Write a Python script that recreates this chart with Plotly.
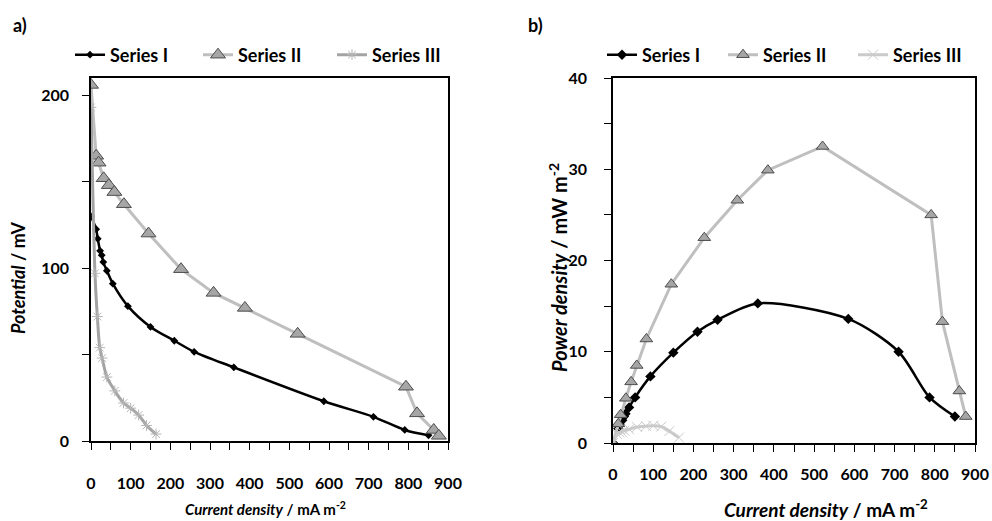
import plotly.graph_objects as go

# ---------------- data ----------------
# Panel a) polarisation curves: current density (mA m-2) vs potential (mV)
s1_current = [0, 13, 17, 23, 27, 31, 40, 55, 93, 150, 210, 260, 360, 587, 712, 791, 851]
s1_potential = [130, 122.5, 117, 110, 107.5, 103.5, 98.5, 91, 78, 66, 58, 51.6, 42.6, 23, 14, 6.4, 3.3]

s2_current = [0, 13, 19, 32, 45, 59, 83, 145, 227, 309, 388, 521, 794, 822, 864, 877]
s2_potential = [206, 165, 161, 152, 148, 144, 137, 120, 99.4, 85.7, 77, 62, 31.4, 16, 6.4, 3]

s3_current = [0, 10, 16, 22, 28, 40, 60, 82, 100, 120, 140, 164]
s3_potential = [193, 97, 72, 54, 48, 37, 29, 22, 19, 15, 9, 4]

# Panel b) power curves: current density (mA m-2) vs power density (mW m-2)
p1_current = [0, 13, 17, 23, 27, 31, 40, 55, 93, 150, 210, 260, 360, 585, 710, 787, 850]
p1_power = [0, 1.6, 2.0, 2.5, 2.9, 3.2, 3.9, 5.0, 7.3, 9.9, 12.2, 13.5, 15.3, 13.6, 10.0, 5.0, 2.9]

p2_current = [0, 13, 19, 32, 45, 59, 83, 145, 227, 309, 385, 521, 791, 819, 861, 877]
p2_power = [0, 2.1, 3.1, 4.9, 6.7, 8.5, 11.4, 17.4, 22.5, 26.6, 29.9, 32.5, 25.0, 13.3, 5.7, 2.9]

p3_current = [0, 10, 16, 22, 28, 40, 60, 82, 100, 120, 140, 164]
p3_power = [0, 1.0, 1.15, 1.2, 1.35, 1.5, 1.75, 1.85, 1.9, 1.8, 1.3, 0.6]

series_names = ["Series I", "Series II", "Series III"]
x_ticks = [0, 100, 200, 300, 400, 500, 600, 700, 800, 900]

# ---------------- styling ----------------
W, H = 992, 521
FONT = "Lato"
BLACK = "#000000"
S2_LINE = "#bfbfbf"
S2_FILL = "#a6a6a6"
S2_EDGE = "#4d4d4d"
S3A_LINE = "#a3a3a3"
S3B_LINE = "#cacaca"


def px_x(p):
    return p / W


def px_y(p):
    return 1 - p / H


fig = go.Figure()

# ---- panel a ----
fig.add_trace(go.Scatter(
    x=s1_current, y=s1_potential, name=series_names[0], xaxis="x", yaxis="y",
    mode="lines+markers", line=dict(color=BLACK, width=2.5, shape="spline", smoothing=0.8),
    marker=dict(symbol="diamond", size=6, color=BLACK), legend="legend", legendwidth=83))
fig.add_trace(go.Scatter(
    x=s2_current, y=s2_potential, name=series_names[1], xaxis="x", yaxis="y",
    mode="lines+markers", line=dict(color=S2_LINE, width=3),
    marker=dict(symbol="triangle-up", size=13, color=S2_FILL, line=dict(color=S2_EDGE, width=1)),
    legend="legend", legendwidth=89))
fig.add_trace(go.Scatter(
    x=s3_current, y=s3_potential, name=series_names[2], xaxis="x", yaxis="y",
    mode="lines+markers", line=dict(color=S3A_LINE, width=3, shape="spline", smoothing=0.8),
    marker=dict(symbol="asterisk-open", size=9, color="#b5b5b5", line=dict(color="#b5b5b5", width=1)),
    legend="legend"))

# ---- panel b ----
fig.add_trace(go.Scatter(
    x=p1_current, y=p1_power, name=series_names[0], xaxis="x2", yaxis="y2",
    mode="lines+markers", line=dict(color=BLACK, width=2.5, shape="spline", smoothing=0.8),
    marker=dict(symbol="diamond", size=8, color=BLACK), legend="legend2", legendwidth=76))
fig.add_trace(go.Scatter(
    x=p2_current, y=p2_power, name=series_names[1], xaxis="x2", yaxis="y2",
    mode="lines+markers", line=dict(color=S2_LINE, width=3),
    marker=dict(symbol="triangle-up", size=11, color=S2_FILL, line=dict(color=S2_EDGE, width=1)),
    legend="legend2", legendwidth=85))
fig.add_trace(go.Scatter(
    x=p3_current, y=p3_power, name=series_names[2], xaxis="x2", yaxis="y2",
    mode="lines+markers", line=dict(color=S3B_LINE, width=3, shape="spline", smoothing=0.8),
    marker=dict(symbol="x-thin-open", size=10, color=S3B_LINE, line=dict(color=S3B_LINE, width=1)),
    legend="legend2"))

tickfont = dict(family=FONT, size=16, color=BLACK, weight="bold")
common = dict(showline=True, linecolor=BLACK, linewidth=1.5, mirror=True,
              showgrid=False, zeroline=False, ticks="outside", ticklen=7,
              tickcolor=BLACK, tickwidth=1, tickfont=tickfont, automargin=False)

legend_font = dict(family=FONT, size=18, color=BLACK, weight="bold")

fig.update_layout(
    template="none",
    width=W, height=H,
    margin=dict(l=0, r=0, t=0, b=0, autoexpand=False),
    paper_bgcolor="white", plot_bgcolor="white",
    font=dict(family=FONT, color=BLACK),
    xaxis=dict(domain=[px_x(91), px_x(448)], range=[0, 900], tickvals=x_ticks,
               minor=dict(dtick=50, ticks="outside", ticklen=7, tickcolor=BLACK),
               ticklabelstandoff=20, anchor="y", **common),
    yaxis=dict(domain=[px_y(441), px_y(78)], range=[0, 210], tickvals=[0, 100, 200],
               minor=dict(dtick=50, ticks="outside", ticklen=7, tickcolor=BLACK),
               ticklabelstandoff=10, anchor="x", **common),
    xaxis2=dict(domain=[px_x(613), px_x(975)], range=[0, 900], tickvals=x_ticks,
                minor=dict(dtick=50, ticks="outside", ticklen=7, tickcolor=BLACK),
                ticklabelstandoff=9, anchor="y2", **common),
    yaxis2=dict(domain=[px_y(443), px_y(78)], range=[0, 40], tickvals=[0, 10, 20, 30, 40],
                minor=dict(dtick=5, ticks="outside", ticklen=7, tickcolor=BLACK),
                ticklabelstandoff=14, anchor="x2", **common),
    legend=dict(orientation="h", x=px_x(70), xanchor="left", y=px_y(55), yanchor="middle",
                font=legend_font, bgcolor="rgba(0,0,0,0)", itemwidth=30, tracegroupgap=0),
    legend2=dict(orientation="h", x=px_x(602), xanchor="left", y=px_y(55), yanchor="middle",
                 font=legend_font, bgcolor="rgba(0,0,0,0)", itemwidth=30, tracegroupgap=0),
    showlegend=True,
)


def note(text, x, y, size, angle=0):
    fig.add_annotation(text=text, x=px_x(x), y=px_y(y), xref="paper", yref="paper",
                       xanchor="center", yanchor="middle", textangle=angle,
                       showarrow=False, font=dict(family=FONT, size=size, color=BLACK))


note("<b>a)</b>", 20, 25, 18)
note("<b>b)</b>", 535, 25, 18)
note("<b><i>Current density</i> / mA m<sup>-2</sup></b>", 265, 508, 15)
note("<b><i>Potential</i> / mV</b>", 18, 278, 18, -90)
note("<b><i>Current density</i> / mA m<sup>-2</sup></b>", 826, 508, 19)
note("<b><i>Power density</i> / mW m<sup>-2</sup></b>", 558, 268, 20, -90)

# remove the browser's default 8px body margin so the figure sits at the page origin
fig.write_html("out.html", config={"displayModeBar": False},
               post_script="document.body.style.margin='0';")
